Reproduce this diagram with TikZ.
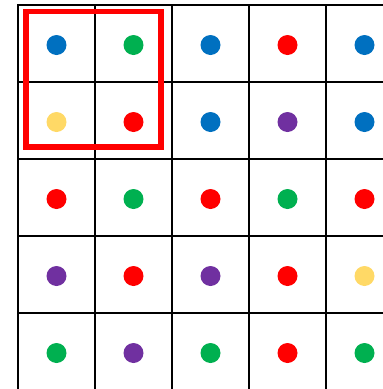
\documentclass[tikz,border=0pt]{standalone}
\begin{document}
\begin{tikzpicture}[x=1pt,y=-1pt,
  dot/.style={circle,fill=#1,draw=none,minimum size=20pt,inner sep=0pt},
  gridline/.style={black,line width=2pt},
  hilite/.style={draw=red,line width=5.5pt}]
\definecolor{cB}{HTML}{0070C0}
\definecolor{cG}{HTML}{00B050}
\definecolor{cR}{HTML}{FF0000}
\definecolor{cY}{HTML}{FFD966}
\definecolor{cP}{HTML}{7030A0}
\useasboundingbox (0,0) rectangle (383,389);
\clip (0,0) rectangle (383,389);
\fill[white] (0,0) rectangle (383,389);
% grid
\foreach \i in {0,...,5} {
  \draw[gridline] (18+77*\i,5) -- (18+77*\i,400);
  \draw[gridline] (17,5+77*\i) -- (400,5+77*\i);
}
% dots
\foreach \row/\cols in {1/{cB,cG,cB,cR,cB},2/{cY,cR,cB,cP,cB},3/{cR,cG,cR,cG,cR},4/{cP,cR,cP,cR,cY},5/{cG,cP,cG,cR,cG}} {
  \foreach \c [count=\col] in \cols {
    \node[dot=\c] (d\row\col) at (56.5+77*\col-77,45+77*\row-77) {};
  }
}
% highlight
\node[hilite,minimum width=135pt,minimum height=135.5pt,inner sep=0pt] (box) at (93.5,79.25) {};
\end{tikzpicture}
\end{document}
